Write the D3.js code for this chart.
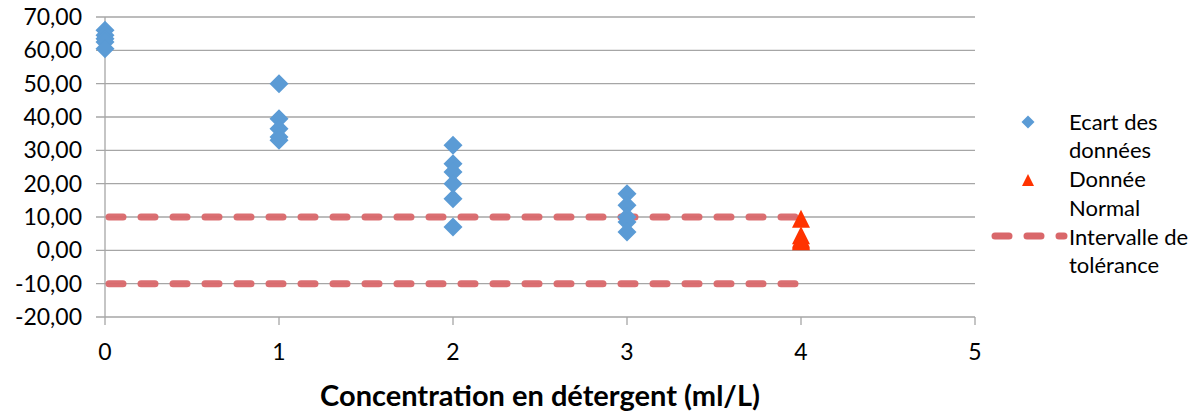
<!DOCTYPE html>
<html>
<head>
<meta charset="utf-8">
<script src="https://cdn.jsdelivr.net/npm/d3@7"></script>
<style>
    body { margin: 0; background: #fff; }
    text { font-family: Lato, "Open Sans", sans-serif; fill: #000; }
</style>
</head>
<body>
<svg id="chart" width="1193" height="413"></svg>
<script>
// values
const ecartX = [0, 0, 0, 0, 0,
    1, 1, 1, 1, 1,
    2, 2, 2, 2, 2, 2,
    3, 3, 3, 3, 3];
const ecartY = [66, 64.5, 63.5, 62.5, 60.5,
    50, 39.5, 36.5, 34, 33,
    31.5, 26, 23.5, 20, 15.5, 7,
    17, 13.5, 10, 8.5, 5.5];
const normalX = [4, 4, 4, 4, 4];
const normalY = [9.5, 4.5, 3.5, 3, 2.7];
const toleranceX = [0, 4];
const toleranceUpper = [10, 10];
const toleranceLower = [-10, -10];
const yTicks = [70, 60, 50, 40, 30, 20, 10, 0, -10, -20];
const xTicks = [0, 1, 2, 3, 4, 5];
const xTitle = "Concentration en détergent (ml/L)";
const legendLabels = [["Ecart des", "données"], ["Donnée", "Normal"], ["Intervalle de", "tolérance"]];

const svg = d3.select("#chart");
const blue = "#5b9bd5";
const red = "#ff3300";
const dashRed = "#d9676a";
const gridCol = "#a6a6a6";

let x = d3.scaleLinear().domain([0, 5]).range([105, 975]);
let y = d3.scaleLinear().domain([-20, 70]).range([317, 17]);

// gridlines
svg.append("g")
    .selectAll("line")
    .data(yTicks)
    .join("line")
    .attr("x1", 96)
    .attr("x2", x(5))
    .attr("y1", d => y(d))
    .attr("y2", d => y(d))
    .attr("stroke", gridCol)
    .attr("stroke-width", 1.3);

// y axis line + x tick marks
svg.append("line")
    .attr("x1", x(0)).attr("x2", x(0))
    .attr("y1", y(70)).attr("y2", y(-20) + 8)
    .attr("stroke", gridCol).attr("stroke-width", 1.3);

svg.append("g")
    .selectAll("line")
    .data(xTicks.slice(1))
    .join("line")
    .attr("x1", d => x(d)).attr("x2", d => x(d))
    .attr("y1", y(-20)).attr("y2", y(-20) + 8)
    .attr("stroke", gridCol).attr("stroke-width", 1.3);

// tick labels
let fmt = d => d.toFixed(2).replace(".", ",");
svg.append("g")
    .selectAll("text")
    .data(yTicks)
    .join("text")
    .attr("x", 82)
    .attr("y", d => y(d))
    .attr("dy", "0.35em")
    .attr("text-anchor", "end")
    .style("font-size", "23px")
    .text(fmt);

svg.append("g")
    .selectAll("text")
    .data(xTicks)
    .join("text")
    .attr("x", d => x(d))
    .attr("y", 352)
    .attr("dy", "0.35em")
    .attr("text-anchor", "middle")
    .style("font-size", "23px")
    .text(d => d);

svg.append("text")
    .attr("x", 540)
    .attr("y", 396)
    .attr("dy", "0.35em")
    .attr("text-anchor", "middle")
    .style("font-size", "29px")
    .style("font-weight", "bold")
    .text(xTitle);

// tolerance lines
let line = d3.line()
    .x(d => x(d[0]))
    .y(d => y(d[1]));

[toleranceUpper, toleranceLower].forEach(vals => {
    svg.append("path")
        .datum(toleranceX.map((v, i) => [v, vals[i]]))
        .attr("d", line)
        .attr("fill", "none")
        .attr("stroke", dashRed)
        .attr("stroke-width", 7)
        .attr("stroke-linecap", "round")
        .attr("stroke-dasharray", "14,18")
        .attr("stroke-dashoffset", -4)
        .attr("opacity", 0.95);
});

// marker shapes
function diamond(r) {
    return `M0,${-r}L${r},0L0,${r}L${-r},0Z`;
}
function triangle(r) {
    return `M0,${-r}L${r},${r}L${-r},${r}Z`;
}

svg.append("g")
    .selectAll("path")
    .data(ecartX.map((v, i) => [v, ecartY[i]]))
    .join("path")
    .attr("d", diamond(9.5))
    .attr("transform", d => `translate(${x(d[0])},${y(d[1])})`)
    .attr("fill", blue);

svg.append("g")
    .selectAll("path")
    .data(normalX.map((v, i) => [v, normalY[i]]))
    .join("path")
    .attr("d", triangle(9))
    .attr("transform", d => `translate(${x(d[0])},${y(d[1])})`)
    .attr("fill", red);

// legend
let legend = svg.append("g");
legend.append("path")
    .attr("d", diamond(6.5))
    .attr("transform", "translate(1028,122)")
    .attr("fill", blue);
legend.append("path")
    .attr("d", triangle(6))
    .attr("transform", "translate(1028,180)")
    .attr("fill", red);
legend.append("line")
    .attr("x1", 995).attr("x2", 1064)
    .attr("y1", 236).attr("y2", 236)
    .attr("stroke", dashRed)
    .attr("stroke-width", 7)
    .attr("stroke-linecap", "round")
    .attr("stroke-dasharray", "14,18");

legendLabels.forEach((lines, i) => {
    lines.forEach((t, j) => {
        legend.append("text")
            .attr("x", 1069)
            .attr("y", 122 + i * 57.5 + j * 28.5)
            .attr("dy", "0.35em")
            .style("font-size", "22px")
            .text(t);
    });
});
</script>
</body>
</html>
